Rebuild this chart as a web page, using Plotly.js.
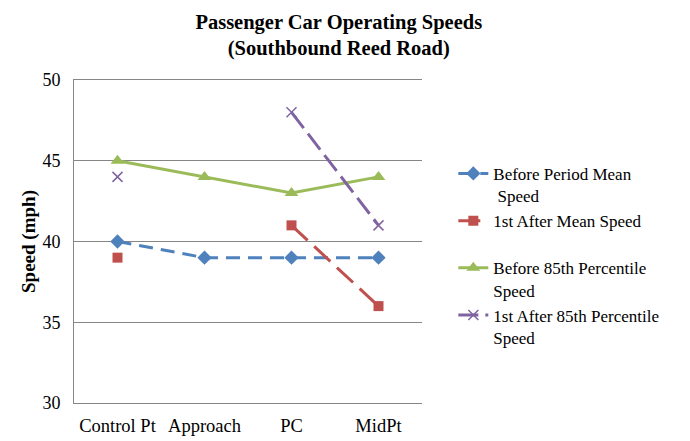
<!DOCTYPE html>
<html>
<head>
<meta charset="utf-8">
<script src="https://cdn.plot.ly/plotly-3.0.1.min.js"></script>
<style>
  html, body { margin: 0; padding: 0; background: #fff; }
  #chart { width: 690px; height: 441px; }
</style>
</head>
<body>
<div id="chart"></div>
<script>
const categories = ['Control Pt', 'Approach', 'PC', 'MidPt'];

const beforeMean = [40, 39, 39, 39];
const afterMean = [39, null, 41, 36];
const before85 = [45, 44, 43, 44];
const after85 = [44, null, 48, 41];

const yTicks = [30, 35, 40, 45, 50];

const FONT = 'Liberation Serif, Times New Roman, serif';

const traces = [
    {
        name: 'Before Period Mean<br> Speed',
        legendgroup: 'a',
        x: categories, y: beforeMean,
        mode: 'lines+markers', type: 'scatter',
        line: { color: '#4F81BD', width: 3, dash: '14px,8px' },
        marker: { symbol: 'diamond', size: 11, color: '#4F81BD' },
    },
    {
        name: '1st After Mean Speed<br> ',
        legendgroup: 'b',
        x: categories, y: afterMean,
        mode: 'lines+markers', type: 'scatter',
        line: { color: '#C0504D', width: 3, dash: '22px,9px' },
        marker: { symbol: 'square', size: 10, color: '#C0504D' },
    },
    {
        name: 'Before 85th Percentile<br>Speed',
        legendgroup: 'c',
        x: categories, y: before85,
        mode: 'lines+markers', type: 'scatter',
        line: { color: '#9BBB59', width: 3 },
        marker: { symbol: 'triangle-up', size: 12, color: '#9BBB59' },
    },
    {
        name: '1st After 85th Percentile<br>Speed',
        legendgroup: 'd',
        x: categories, y: after85,
        mode: 'lines+markers', type: 'scatter',
        line: { color: '#8064A2', width: 3, dash: '20px,7px' },
        marker: { symbol: 'x-thin-open', size: 10, color: '#8064A2', line: { color: '#8064A2', width: 1.5 } },
    },
];

const layout = {
    width: 690,
    height: 441,
    paper_bgcolor: '#fff',
    plot_bgcolor: '#fff',
    font: { family: FONT, size: 18, color: '#000' },
    title: {
        text: '<b>Passenger Car Operating Speeds<br>(Southbound Reed Road)</b>',
        font: { family: FONT, size: 20.5, color: '#000' },
        x: 0.491, xref: 'container', xanchor: 'center',
        y: 0.935, yref: 'container', yanchor: 'top',
    },
    margin: { l: 74, r: 268, t: 80, b: 38 },
    xaxis: {
        type: 'category',
        range: [-0.5, 3.5],
        showgrid: false,
        zeroline: false,
        showline: true,
        mirror: true,
        linecolor: '#868686',
        ticks: '',
        ticklabelstandoff: 6,
        tickfont: { family: FONT, size: 18.5 },
    },
    yaxis: {
        range: [30, 50],
        tickvals: yTicks,
        showgrid: true,
        gridcolor: '#868686',
        gridwidth: 1,
        zeroline: false,
        showline: true,
        linecolor: '#868686',
        ticks: '',
        ticklabelstandoff: 9,
        tickfont: { family: FONT, size: 18 },
        title: { text: '<b>Speed (mph)</b>', font: { family: FONT, size: 19 }, standoff: 1 },
    },
    showlegend: true,
    legend: {
        x: 1.09, xanchor: 'left',
        y: 0.765, yanchor: 'top',
        font: { family: FONT, size: 17 },
        valign: 'top',
        tracegroupgap: 0,
        bgcolor: 'rgba(0,0,0,0)',
    },
};

Plotly.newPlot('chart', traces, layout, { displayModeBar: false, staticPlot: true });
</script>
</body>
</html>
